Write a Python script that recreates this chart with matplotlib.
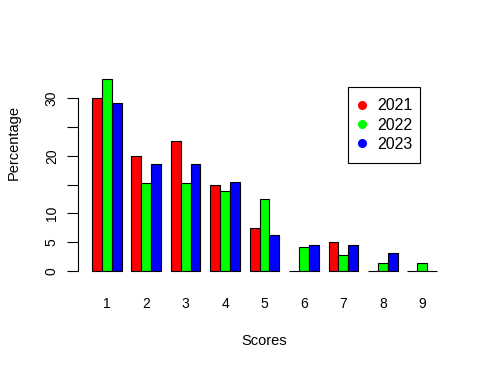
import matplotlib
matplotlib.use("Agg")
import matplotlib.pyplot as plt
from matplotlib.lines import Line2D
from matplotlib.patches import Rectangle
import numpy as np

plt.rcParams["font.family"] = ["Liberation Sans", "DejaVu Sans"]
plt.rcParams["font.size"] = 10

scores = ["1", "2", "3", "4", "5", "6", "7", "8", "9"]
years = ["2021", "2022", "2023"]
pct_2021 = [30.0, 20.0, 22.5, 15.0, 7.5, 0.0, 5.0, 0.0, 0.0]
pct_2022 = [33.3, 15.2, 15.2, 13.9, 12.5, 4.2, 2.8, 1.4, 1.4]
pct_2023 = [29.2, 18.5, 18.5, 15.4, 6.2, 4.6, 4.6, 3.1, 0.0]
colors = ["#ff0000", "#00ff00", "#0000ff"]

W, H = 491, 371
fig = plt.figure(figsize=(W / 100, H / 100), dpi=100)
ax = fig.add_axes([0.1593, 0.2488, 0.7588, 0.5582])

# R-style beside barplot: 3 bars per group, 1 unit gap before each group
series = [pct_2021, pct_2022, pct_2023]
n = len(scores)
centers = []
for g in range(n):
    for k, vals in enumerate(series):
        left = 1 + 4 * g + k
        ax.bar(left, vals[g], width=1, align="edge", color=colors[k],
               edgecolor="black", linewidth=0.8)
    centers.append(1 + 4 * g + 1.5)

ymax = max(max(s) for s in series)
ax.set_xlim(1 - 0.04 * 35, 36 + 0.04 * 35)
ax.set_ylim(-0.04 * ymax, ymax * 1.04)

for s in ax.spines.values():
    s.set_visible(False)

ax.spines["left"].set_visible(True)
ax.spines["left"].set_bounds(0, 30)
ax.spines["left"].set_linewidth(0.8)
ax.set_yticks([0, 5, 10, 15, 20, 25, 30])
ax.set_yticklabels(["0", "5", "10", "", "20", "", "30"], rotation=90, va="center")
ax.tick_params(axis="y", length=8, width=0.8, pad=6)

ax.set_xticks(centers)
ax.set_xticklabels(scores)
ax.tick_params(axis="x", length=0, pad=13)

fig.text(0.539, 0.081, "Scores", ha="center", va="center", fontsize=10.5)
fig.text(0.027, 0.615, "Percentage", ha="center", va="center",
         rotation=90, fontsize=10.5)

# legend: R-style box drawn separately, entries without frame
fig.patches.append(Rectangle((348 / W, 1 - 162.7 / H), 72 / W, 76 / H,
                             transform=fig.transFigure, fill=False,
                             edgecolor="black", linewidth=0.8))
handles = [Line2D([], [], marker="o", linestyle="", color=c, markersize=5.5)
           for c in colors]
leg = ax.legend(handles, years, loc="center left",
                bbox_to_anchor=(356 / W, 1 - 125 / H),
                bbox_transform=fig.transFigure, frameon=False,
                handletextpad=0.55, borderpad=0, borderaxespad=0,
                labelspacing=0.26, handlelength=0.75, fontsize=11.5)

fig.savefig("out.png", dpi=100)
